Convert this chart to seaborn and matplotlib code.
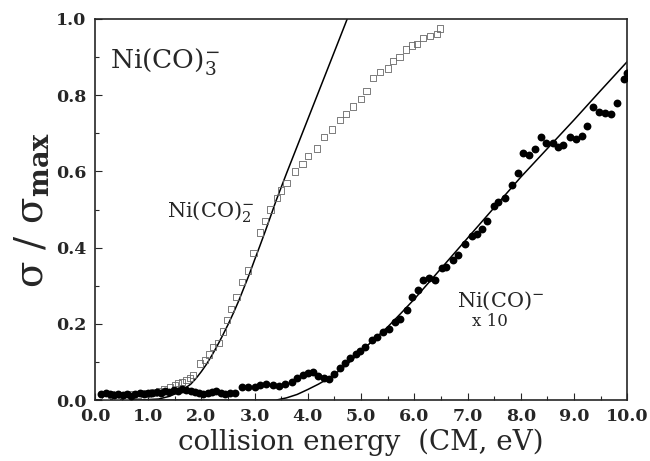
import matplotlib
matplotlib.use("Agg")
import matplotlib.pyplot as plt
from matplotlib.ticker import MultipleLocator, FormatStrFormatter
import seaborn as sns
import pandas as pd

# Ni(CO)- x10 data (filled circles)
energy_c = [0.12, 0.2, 0.28, 0.36, 0.44, 0.52, 0.6, 0.68, 0.76, 0.84, 0.92, 1.0, 1.08, 1.16,
            1.24, 1.32, 1.4, 1.48, 1.56, 1.64, 1.72, 1.8, 1.88, 1.96, 2.04, 2.12, 2.2, 2.28,
            2.36, 2.44, 2.54, 2.64, 2.76, 2.88, 3.0, 3.1, 3.22, 3.34, 3.46, 3.58, 3.7, 3.8,
            3.9, 4.0, 4.1, 4.2, 4.3, 4.4, 4.5, 4.6, 4.7, 4.8, 4.9, 4.98, 5.08, 5.2, 5.3, 5.42,
            5.52, 5.64, 5.74, 5.86, 5.96, 6.07, 6.17, 6.27, 6.39, 6.52, 6.6, 6.73, 6.83, 6.96,
            7.08, 7.18, 7.27, 7.36, 7.49, 7.58, 7.7, 7.84, 7.95, 8.05, 8.16, 8.27, 8.38, 8.48,
            8.6, 8.69, 8.8, 8.93, 9.04, 9.15, 9.25, 9.36, 9.46, 9.58, 9.7, 9.8, 9.93, 10.0]
sigma_c = [0.016, 0.020, 0.017, 0.014, 0.016, 0.013, 0.015, 0.012, 0.016, 0.018, 0.015, 0.020,
           0.018, 0.022, 0.020, 0.024, 0.022, 0.026, 0.024, 0.028, 0.026, 0.024, 0.021, 0.018,
           0.017, 0.020, 0.022, 0.025, 0.020, 0.017, 0.018, 0.019, 0.034, 0.034, 0.035, 0.040,
           0.042, 0.040, 0.037, 0.042, 0.047, 0.058, 0.066, 0.072, 0.073, 0.064, 0.058, 0.055,
           0.068, 0.085, 0.097, 0.110, 0.122, 0.130, 0.140, 0.157, 0.165, 0.180, 0.186, 0.205,
           0.214, 0.236, 0.271, 0.289, 0.315, 0.320, 0.315, 0.346, 0.350, 0.367, 0.380, 0.410,
           0.430, 0.437, 0.450, 0.470, 0.510, 0.520, 0.530, 0.564, 0.596, 0.648, 0.643, 0.659,
           0.690, 0.675, 0.675, 0.663, 0.669, 0.690, 0.685, 0.694, 0.720, 0.770, 0.757, 0.754,
           0.750, 0.780, 0.843, 0.857]

# Ni(CO)2- data (open squares)
energy_s = [0.2, 0.3, 0.4, 0.5, 0.6, 0.7, 0.8, 0.9, 1.0, 1.1, 1.2, 1.3, 1.41, 1.5, 1.56, 1.64,
            1.72, 1.78, 1.85, 1.97, 2.07, 2.15, 2.22, 2.32, 2.4, 2.48, 2.56, 2.66, 2.76, 2.88,
            2.98, 3.1, 3.2, 3.3, 3.42, 3.5, 3.6, 3.76, 3.9, 4.0, 4.17, 4.3, 4.45, 4.6, 4.72,
            4.85, 5.0, 5.1, 5.23, 5.35, 5.5, 5.6, 5.72, 5.85, 5.96, 6.05, 6.17, 6.3, 6.43, 6.48]
sigma_s = [0.012, 0.015, 0.010, 0.013, 0.012, 0.015, 0.014, 0.018, 0.017, 0.020, 0.024, 0.028,
           0.035, 0.040, 0.044, 0.048, 0.052, 0.058, 0.065, 0.096, 0.105, 0.120, 0.140, 0.150,
           0.180, 0.210, 0.240, 0.270, 0.310, 0.340, 0.385, 0.440, 0.470, 0.500, 0.530, 0.550,
           0.570, 0.600, 0.620, 0.640, 0.660, 0.690, 0.710, 0.735, 0.750, 0.770, 0.790, 0.810,
           0.845, 0.860, 0.870, 0.890, 0.900, 0.920, 0.930, 0.935, 0.950, 0.955, 0.960, 0.975]

# model fits (solid lines)
fit2_e = [0.0, 0.8, 1.2, 1.4, 1.6, 1.8, 1.9, 2.0, 2.1, 2.2, 2.3, 2.4, 2.5, 2.6, 2.7, 2.8, 2.9,
          3.0, 3.1, 3.2, 3.3, 3.4, 3.6, 3.8, 4.0, 4.2, 4.4, 4.6, 4.74]
fit2_v = [0.0, 0.0, 0.003, 0.010, 0.022, 0.042, 0.057, 0.075, 0.095, 0.118, 0.143, 0.170,
          0.198, 0.228, 0.260, 0.295, 0.330, 0.368, 0.405, 0.443, 0.482, 0.522, 0.595, 0.666,
          0.737, 0.808, 0.879, 0.950, 1.0]
fit1_e = [0.0, 3.0, 3.4, 3.6, 3.8, 4.0, 4.2, 4.4, 4.6, 4.8, 5.0, 5.25, 5.5, 5.75, 6.0, 6.25,
          6.5, 6.75, 7.0, 7.25, 7.5, 7.75, 8.0, 8.5, 9.0, 9.5, 10.0]
fit1_v = [0.0, 0.0, 0.0, 0.006, 0.015, 0.028, 0.042, 0.058, 0.078, 0.102, 0.128, 0.160, 0.192,
          0.228, 0.265, 0.305, 0.345, 0.385, 0.425, 0.465, 0.505, 0.545, 0.585, 0.660, 0.735,
          0.812, 0.888]

sns.set_style("ticks")
plt.rcParams['font.family'] = ['DejaVu Serif']
plt.rcParams['mathtext.fontset'] = 'dejavuserif'

fig = plt.figure(figsize=(6.5, 4.61), dpi=100)
ax = fig.add_axes([0.146, 0.132, 0.819, 0.827])

sns.lineplot(x=fit2_e, y=fit2_v, color='black', linewidth=1.1, ax=ax)
sns.lineplot(x=fit1_e, y=fit1_v, color='black', linewidth=1.1, ax=ax)
sns.scatterplot(x=energy_s, y=sigma_s, marker='s', s=20, facecolor='none',
                edgecolor='0.4', linewidth=0.6, ax=ax, zorder=3)
sns.scatterplot(x=energy_c, y=sigma_c, marker='o', s=32, color='black',
                edgecolor='black', linewidth=0, ax=ax, zorder=4)

ax.set_xlim(0, 10)
ax.set_ylim(0, 1.0)
ax.xaxis.set_major_locator(MultipleLocator(1.0))
ax.xaxis.set_minor_locator(MultipleLocator(0.5))
ax.yaxis.set_major_locator(MultipleLocator(0.2))
ax.yaxis.set_minor_locator(MultipleLocator(0.1))
ax.xaxis.set_major_formatter(FormatStrFormatter('%.1f'))
ax.yaxis.set_major_formatter(FormatStrFormatter('%.1f'))
ax.tick_params(which='both', direction='in', top=False, right=False, width=0.8)
ax.tick_params(which='major', length=5, labelsize=12.5, pad=6)
ax.tick_params(which='minor', length=3)
for lab in ax.get_xticklabels() + ax.get_yticklabels():
    lab.set_fontweight('bold')
for sp in ax.spines.values():
    sp.set_visible(True)
    sp.set_linewidth(1.2)

ax.set_xlabel('collision energy  (CM, eV)', fontsize=20, labelpad=2)
ax.set_ylabel('σ / σ$_{\\mathbf{max}}$', fontsize=28, labelpad=4)

ax.text(0.28, 0.87, r'Ni(CO)$_3^{-}$', fontsize=19)
ax.text(1.35, 0.48, r'Ni(CO)$_2^{-}$', fontsize=15)
ax.text(6.8, 0.245, r'Ni(CO)$^{-}$', fontsize=15)
ax.text(7.42, 0.205, 'x 10', fontsize=12, ha='center', va='center')

fig.savefig('out.png', dpi=100)
